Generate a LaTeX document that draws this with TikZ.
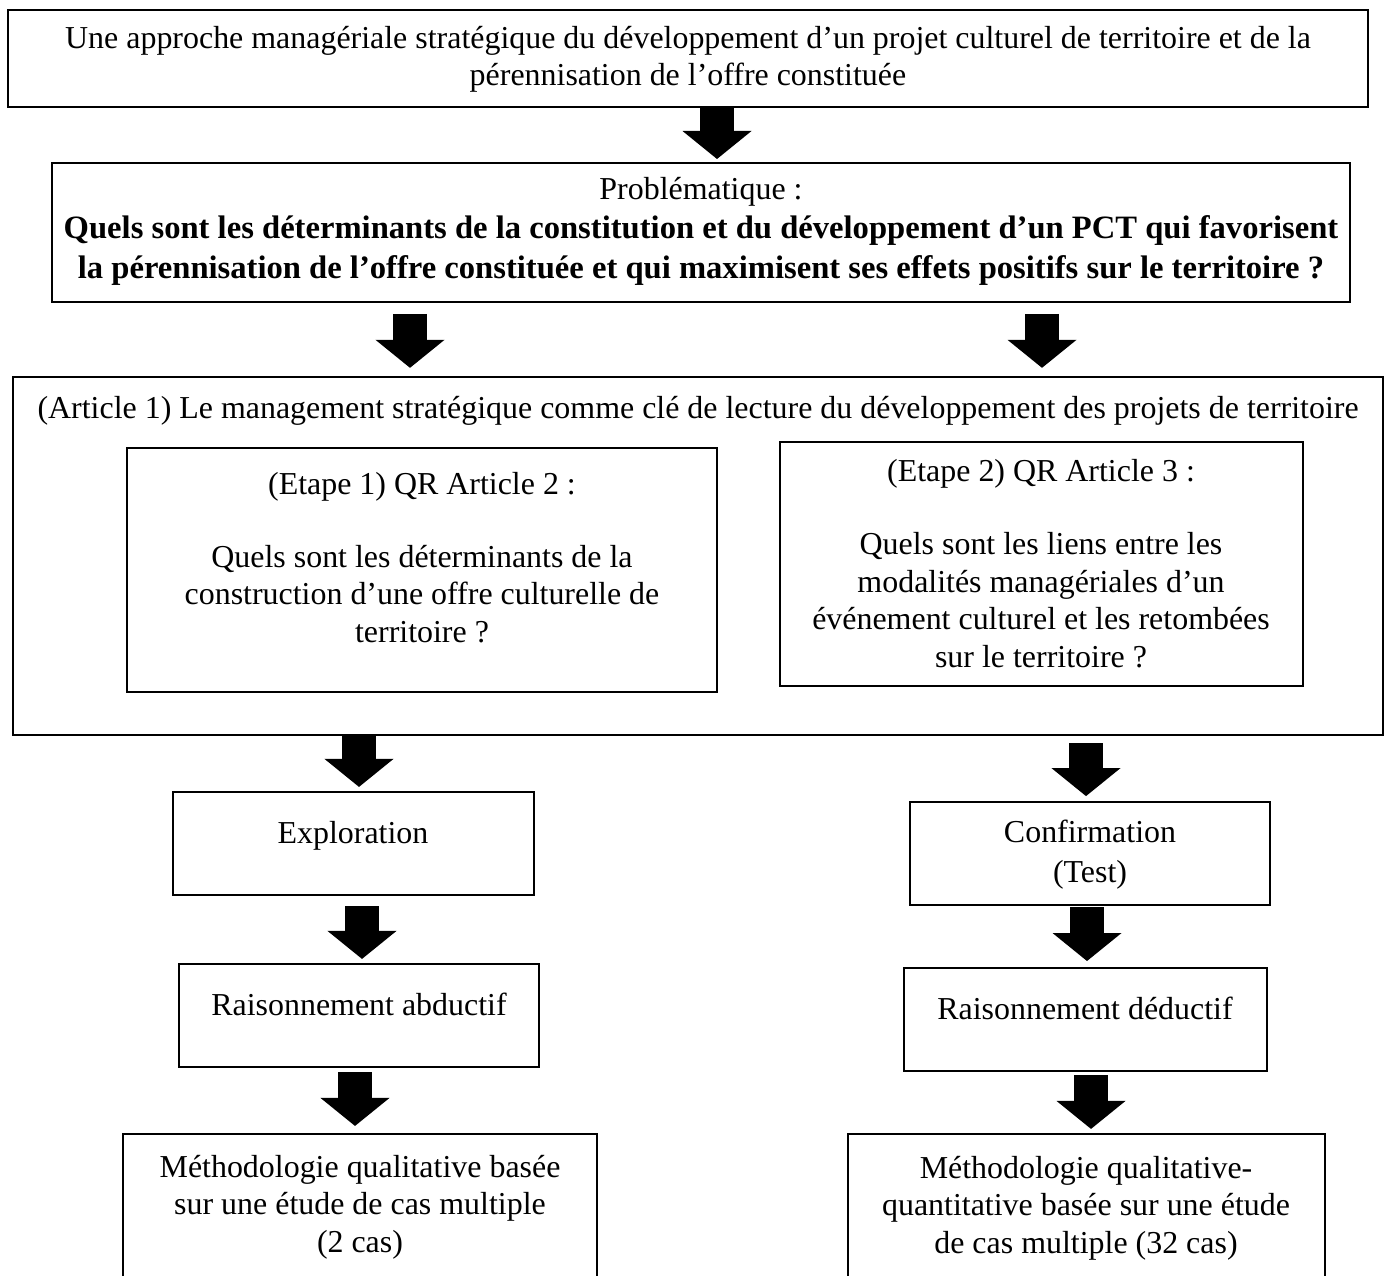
\documentclass[tikz,border=0pt]{standalone}
\usepackage{fontspec}
\setmainfont{Liberation Serif}
\usetikzlibrary{arrows.meta,fit}

\begin{document}
\begin{tikzpicture}[x=0.368pt, y=-0.368pt,
    boite/.style = {draw, line width=0.75pt, inner sep=0pt},
    texte/.style = {align=center, inner sep=0pt, anchor=base,
      font=\fontsize{11.75}{13.8}\selectfont},
    fleche/.style = {line width=12.5pt,
      -{Triangle[width=25.4pt, length=10.3pt, line width=0pt]}}]
  \useasboundingbox (0,0) rectangle (1387,1275);

  % cadres
  \node[boite, fit={(8,10) (1368,107)}] (approche) {};
  \node[boite, fit={(52,163) (1350,302)}] (probleme) {};
  \node[boite, fit={(13,377) (1383,735)}] (article) {};
  \node[boite, fit={(127,448) (717,692)}] (etape1) {};
  \node[boite, fit={(780,442) (1303,686)}] (etape2) {};
  \node[boite, fit={(173,792) (534,895)}] (explo) {};
  \node[boite, fit={(910,802) (1270,905)}] (confirm) {};
  \node[boite, fit={(179,964) (539,1067)}] (abduct) {};
  \node[boite, fit={(904,968) (1267,1071)}] (deduct) {};
  \node[boite, fit={(123,1134) (597,1330)}] (methqual) {};
  \node[boite, fit={(848,1134) (1325,1330)}] (methmixte) {};

  % textes (ancres sur la derniere ligne)
  \node[texte] (approche-t) at (688,86)
    {Une approche managériale stratégique du développement d’un projet culturel de territoire et de la\\
     pérennisation de l’offre constituée};
  \node[texte, font=\fontsize{11.75}{14.4}\selectfont] (probleme-t) at (701,278)
    {Problématique :\\
     {\fontsize{12}{14.4}\selectfont\bfseries Quels sont les déterminants de la constitution et du développement d’un PCT qui favorisent}\\
     {\fontsize{12}{14.4}\selectfont\bfseries la pérennisation de l’offre constituée et qui maximisent ses effets positifs sur le territoire ?}};
  \node[texte] (article-t) at (698,418)
    {(Article 1) Le management stratégique comme clé de lecture du développement des projets de territoire};
  \node[texte] (etape1-t) at (422,642)
    {(Etape 1) QR Article 2 :\\[13pt]
     Quels sont les déterminants de la\\
     construction d’une offre culturelle de\\
     territoire ?};
  \node[texte] (etape2-t) at (1041,667)
    {(Etape 2) QR Article 3 :\\[13pt]
     Quels sont les liens entre les\\
     modalités managériales d’un\\
     événement culturel et les retombées\\
     sur le territoire ?};
  \node[texte] (explo-t) at (353,843) {Exploration};
  \node[texte, font=\fontsize{11.75}{14.7}\selectfont] (confirm-t) at (1090,882)
    {Confirmation\\ (Test)};
  \node[texte] (abduct-t) at (359,1015) {Raisonnement abductif};
  \node[texte] (deduct-t) at (1085,1019) {Raisonnement déductif};
  \node[texte] (methqual-t) at (360,1252)
    {Méthodologie qualitative basée\\
     sur une étude de cas multiple\\
     (2 cas)};
  \node[texte] (methmixte-t) at (1086,1253)
    {Méthodologie qualitative-\\
     quantitative basée sur une étude\\
     de cas multiple (32 cas)};

  % fleches
  \coordinate (f1) at (717,0);
  \coordinate (f2) at (410,0);
  \coordinate (f3) at (1042,0);
  \coordinate (f4) at (359,0);
  \coordinate (f5) at (1086,0);
  \coordinate (f6) at (362,0);
  \coordinate (f7) at (1087,0);
  \coordinate (f8) at (355,0);
  \coordinate (f9) at (1091,0);
  \draw[fleche, shorten >=1.1pt] (approche.south -| f1) -- (probleme.north -| f1);
  \draw[fleche, shorten <=4pt, shorten >=3pt] (probleme.south -| f2) -- (article.north -| f2);
  \draw[fleche, shorten <=4pt, shorten >=3pt] (probleme.south -| f3) -- (article.north -| f3);
  \draw[fleche, shorten >=1.5pt] (article.south -| f4) -- (explo.north -| f4);
  \draw[fleche, shorten <=2.6pt, shorten >=1.8pt] (article.south -| f5) -- (confirm.north -| f5);
  \draw[fleche, shorten <=3.7pt, shorten >=1.5pt] (explo.south -| f6) -- (abduct.north -| f6);
  \draw[fleche, shorten <=0.4pt, shorten >=2.2pt] (confirm.south -| f7) -- (deduct.north -| f7);
  \draw[fleche, shorten <=1.5pt, shorten >=2.6pt] (abduct.south -| f8) -- (methqual.north -| f8);
  \draw[fleche, shorten <=1.1pt, shorten >=1.5pt] (deduct.south -| f9) -- (methmixte.north -| f9);
\end{tikzpicture}
\end{document}
